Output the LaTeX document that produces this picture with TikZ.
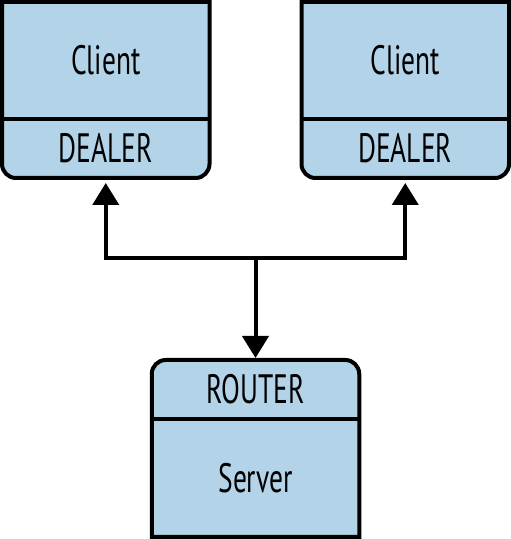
\documentclass[tikz,border=0pt]{standalone}
\usepackage{fontspec}
\setmainfont[FakeStretch=0.67]{PT Sans}
\usetikzlibrary{positioning, arrows.meta, backgrounds}
\definecolor{boxblue}{RGB}{179,212,232}

\begin{document}
\begin{tikzpicture}
        [x=1pt, y=1pt, every node/.style={inner sep=0, outer sep=0, minimum width=207.5pt, font=\fontsize{41}{43}\selectfont}, every path/.style={line width=4pt}]

        \useasboundingbox (0,0) rectangle (511,539);

        % clients
        \node[minimum height=117pt] (c1) at (105.75, 478.5) {Client};
        \node[minimum height=59pt, below=0 of c1] (d1) {DEALER};
        \node[minimum height=117pt] (c2) at (405.25, 478.5) {Client};
        \node[minimum height=59pt, below=0 of c2] (d2) {DEALER};

        % server
        \node[minimum height=59pt] (r) at (255.5, 149.5) {ROUTER};
        \node[minimum height=118pt, below=0 of r] (s) {Server};

        \coordinate (hub) at (255.5, 280.5);

        \begin{scope}[on background layer]
          \filldraw[fill=boxblue] (c1.north west) -- (c1.north east) -- ([yshift=14pt]d1.south east) arc[start angle=0, end angle=-90, radius=14pt] -- ([xshift=14pt]d1.south west) arc[start angle=270, end angle=180, radius=14pt] -- cycle;
          \filldraw[fill=boxblue] (c2.north west) -- (c2.north east) -- ([yshift=14pt]d2.south east) arc[start angle=0, end angle=-90, radius=14pt] -- ([xshift=14pt]d2.south west) arc[start angle=270, end angle=180, radius=14pt] -- cycle;
          \filldraw[fill=boxblue] (s.south west) -- ([yshift=-14pt]r.north west) arc[start angle=180, end angle=90, radius=14pt] -- ([xshift=-14pt]r.north east) arc[start angle=90, end angle=0, radius=14pt] -- (s.south east) -- cycle;
        \end{scope}

        \draw (c1.south west) -- (c1.south east);
        \draw (c2.south west) -- (c2.south east);
        \draw (r.south west) -- (r.south east);

        \draw[-{Triangle[length=22pt,width=26pt]}, shorten >=5pt] (hub) -| (d1.south);
        \draw[-{Triangle[length=22pt,width=26pt]}, shorten >=5pt] (hub) -| (d2.south);
        \draw[-{Triangle[length=22pt,width=26pt]}, shorten >=2pt] (hub) -- (r.north);

      \end{tikzpicture}
\end{document}
